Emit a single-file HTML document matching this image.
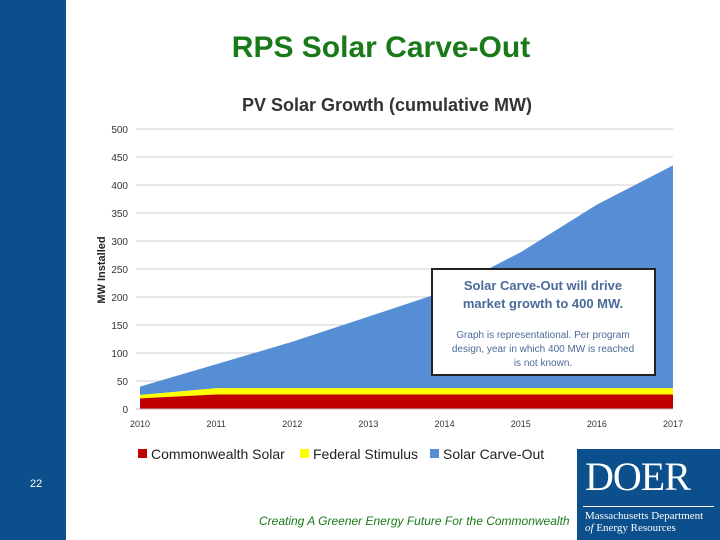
<!DOCTYPE html>
<html><head><meta charset="utf-8"><style>
body{margin:0;width:720px;height:540px;background:#fff;position:relative;overflow:hidden;font-family:"Liberation Sans",sans-serif}
.abs{position:absolute}
</style></head><body>
<div class="abs" style="left:0;top:0;width:66px;height:540px;background:#0b4f8c"></div>
<div class="abs" style="left:30px;top:478px;color:#fff;font-size:11px">22</div>
<div class="abs" style="left:66px;top:31px;width:630px;text-align:center;color:#1a7a1a;font-size:30px;font-weight:bold">RPS Solar Carve-Out</div>
<svg class="abs" style="left:0;top:0" width="720" height="540">
<text x="387" y="111" text-anchor="middle" font-size="18" font-weight="bold" fill="#333">PV Solar Growth (cumulative MW)</text>
<text transform="translate(105,270) rotate(-90)" text-anchor="middle" font-size="11" font-weight="bold" fill="#222">MW Installed</text>
<g id="grid"></g><g id="areas"></g><g id="ticks"></g>
<g>
<rect x="432" y="269" width="223" height="106" fill="#fff" stroke="#222" stroke-width="2"/>
<text x="543" y="290" text-anchor="middle" font-size="13" font-weight="bold" fill="#4a6a9a">Solar Carve-Out will drive</text>
<text x="543" y="308" text-anchor="middle" font-size="13" font-weight="bold" fill="#4a6a9a">market growth to 400 MW.</text>
<text x="543" y="338" text-anchor="middle" font-size="10" fill="#4a6a9a">Graph is representational.  Per program</text>
<text x="543" y="352" text-anchor="middle" font-size="10" fill="#4a6a9a">design, year in which 400 MW is reached</text>
<text x="543" y="366" text-anchor="middle" font-size="10" fill="#4a6a9a">is not known.</text>
</g>
<g font-size="14" fill="#222">
<rect x="138" y="449" width="9" height="9" fill="#c00000"/><text x="151" y="459">Commonwealth Solar</text>
<rect x="300" y="449" width="9" height="9" fill="#ffff00"/><text x="313" y="459">Federal Stimulus</text>
<rect x="430" y="449" width="9" height="9" fill="#558ed5"/><text x="443" y="459">Solar Carve-Out</text>
</g>
</svg>
<div class="abs" style="left:259px;top:514px;color:#1a7a1a;font-size:12px;font-style:italic">Creating A Greener Energy Future For the Commonwealth</div>
<div class="abs" style="left:577px;top:449px;width:143px;height:91px;background:#0b4f8c;color:#fff;font-family:'Liberation Serif',serif">
<div style="position:absolute;left:8px;top:4px;font-size:40px;letter-spacing:-1px">DOER</div>
<div style="position:absolute;left:6px;top:57px;width:131px;border-top:1px solid #fff"></div>
<div style="position:absolute;left:8px;top:61px;font-size:11px;line-height:12px">Massachusetts Department<br><i>of</i> Energy Resources</div>
</div>
<script>
const years=[2010,2011,2012,2013,2014,2015,2016,2017];
const commonwealth=[19,26,26,26,26,26,26,26];
const federal=[6,11,11,11,11,11,11,11];
const carveOut=[15,43,83,128,173,243,328,398];
const yTicks=[0,50,100,150,200,250,300,350,400,450,500];
const NS='http://www.w3.org/2000/svg';
const x=v=>140+(v-2010)*(533/7), y=v=>409-v*0.56;
const g=document.getElementById('grid'),a=document.getElementById('areas'),t=document.getElementById('ticks');
yTicks.forEach(v=>{
 if(v>0){const l=document.createElementNS(NS,'line');
 
 
 l.setAttribute('x1',136);l.setAttribute('x2',673);l.setAttribute('y1',y(v));l.setAttribute('y2',y(v));l.setAttribute('stroke','#d0d0d0');g.appendChild(l);}
 const s=document.createElementNS(NS,'text');
 
 
 s.setAttribute('x',128);s.setAttribute('y',y(v)+4);s.setAttribute('text-anchor','end');s.setAttribute('font-size','10');s.setAttribute('fill','#333');s.textContent=v;t.appendChild(s);
});
years.forEach(v=>{const s=document.createElementNS(NS,'text');
 
 
 s.setAttribute('x',x(v));s.setAttribute('y',427);s.setAttribute('text-anchor','middle');s.setAttribute('font-size','9');s.setAttribute('fill','#333');s.textContent=v;t.appendChild(s);});
const cum1=commonwealth,cum2=cum1.map((v,i)=>v+federal[i]),cum3=cum2.map((v,i)=>v+carveOut[i]);
function area(top,bot,color,name){
 let d='M'+years.map((yr,i)=>x(yr)+','+y(top[i])).join('L');
 for(let i=years.length-1;i>=0;i--)d+='L'+x(years[i])+','+y(bot[i]);
 const p=document.createElementNS(NS,'path');
 
 
 p.setAttribute('d',d+'Z');p.setAttribute('fill',color);a.appendChild(p);}
const zero=years.map(()=>0);
area(cum3,cum2,'#558ed5','area-solar-carve-out');
area(cum2,cum1,'#ffff00','area-federal-stimulus');
area(cum1,zero,'#c00000','area-commonwealth-solar');
const ax=document.createElementNS(NS,'line');


ax.setAttribute('x1',136);ax.setAttribute('x2',673);ax.setAttribute('y1',409);ax.setAttribute('y2',409);ax.setAttribute('stroke','#bbb');t.appendChild(ax);
</script>
</body></html>
